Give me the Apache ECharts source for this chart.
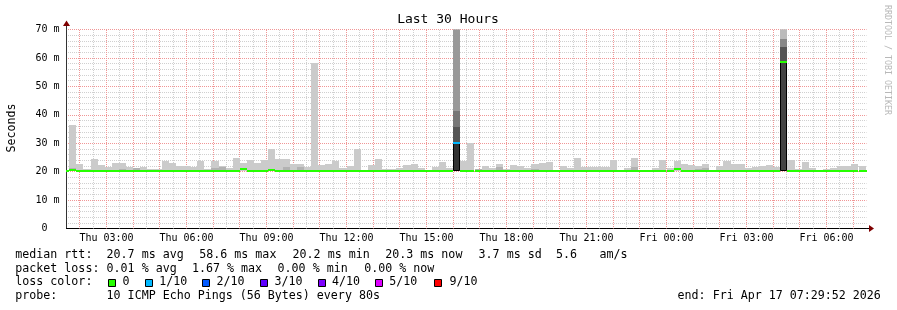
<!DOCTYPE html>
<html>
<head>
<meta charset="utf-8">
<script src="https://cdn.jsdelivr.net/npm/echarts@6/dist/echarts.min.js"></script>
<style>
html,body{margin:0;padding:0;background:#ffffff;}
#c{width:897px;height:310px;}
</style>
</head>
<body>
<div id="c"></div>
<script>
// ---------------- DATA ----------------
// x axis: hours since Thu 00:00 ; 30 hour window ending Fri 07:29:52
const axisStartHour = 1.5;
const axisEndHour = 31.5;
// 16-minute consolidated bins; index 0 is a partial bin before the window
const firstBinStartHour = 1 + 20 / 60;
const binHours = 16 / 60;

// top of smoke (max rtt, ms) per bin
const smokeHigh = [
  20.6,
  36.3, 22.6, 20.9, 24.4, 22.3, 21.7, 23.1, 23.1, 21.7, 21.2,
  21.7, 21.1, 21.1, 23.8, 23.1, 22.1, 22.1, 21.7, 23.8, 20.8,
  23.8, 22.1, 21.2, 24.7, 23.1, 24.0, 23.1, 24.0, 27.9, 24.4,
  24.4, 22.6, 22.6, 21.6, 58.2, 22.3, 22.6, 23.6, 21.3, 21.9,
  27.9, 20.7, 22.3, 24.6, 21.1, 20.8, 21.3, 22.3, 22.6, 21.2,
  20.7, 21.6, 23.3, 21.3, 75.0, 23.8, 29.9, 21.1, 22.1, 21.3,
  22.6, 21.1, 22.4, 22.1, 21.3, 22.6, 23.0, 23.4, 20.7, 22.1,
  21.4, 24.7, 21.7, 21.7, 21.7, 21.7, 24.0, 20.7, 21.2, 24.7,
  20.7, 20.7, 21.2, 24.0, 21.4, 23.6, 22.6, 22.3, 21.9, 22.6,
  20.7, 21.9, 23.6, 22.6, 22.6, 21.2, 21.7, 22.1, 22.3, 21.6,
  75.0, 24.0, 20.8, 23.3, 21.2, 20.7, 20.9, 21.2, 21.9, 21.9,
  22.6, 21.9,
  20.6
];
// bottom of smoke (ms)
const smokeFloor = 20.2;
// darker inner smoke band tops: [bin index, ms]
const innerSmoke = [
  [1, 21.3], [8, 21.0], [10, 21.2], [21, 21.4], [22, 21.7], [31, 21.5],
  [33, 21.7], [58, 21.1], [61, 21.7], [66, 21.0], [80, 21.7], [89, 20.8], [90, 21.4]
];
// median rtt (ms) per bin
const medianMs = [
  20.3,
  20.5, 20.3, 20.3, 20.3, 20.3, 20.3, 20.3, 20.4, 20.3, 20.3,
  20.3, 20.3, 20.3, 20.3, 20.3, 20.3, 20.3, 20.3, 20.3, 20.3,
  20.4, 20.3, 20.3, 20.3, 20.8, 20.3, 20.4, 20.3, 20.6, 20.3,
  20.4, 20.3, 20.4, 20.3, 20.4, 20.3, 20.3, 20.3, 20.3, 20.4,
  20.4, 20.3, 20.3, 20.3, 20.3, 20.3, 20.3, 20.3, 20.3, 20.3,
  20.3, 20.3, 20.3, 20.3, 30.25, 20.3, 20.3, 20.4, 20.3, 20.3,
  20.3, 20.3, 20.3, 20.3, 20.3, 20.3, 20.3, 20.3, 20.3, 20.3,
  20.3, 20.3, 20.3, 20.3, 20.3, 20.3, 20.3, 20.3, 20.3, 20.4,
  20.3, 20.3, 20.3, 20.3, 20.3, 20.9, 20.3, 20.3, 20.3, 20.4,
  20.3, 20.3, 20.3, 20.3, 20.3, 20.3, 20.3, 20.3, 20.3, 20.3,
  58.6, 20.3, 20.3, 20.3, 20.3, 20.3, 20.3, 20.3, 20.3, 20.3,
  20.3, 20.3,
  20.3
];
// packet loss events: [bin index, lost pings of 10]
const lossEvents = [[55, 1]];
// spike bins with layered smoke: band edges (ms), bottom to top
const spikeIndex = [55, 101];
const spikeEdges = [
  [20.2, 30.0, 35.7, 41.3, 75.0],
  [20.2, 58.4, 63.9, 66.8, 75.0]
];

// tick labels
const xTickHours = [3, 6, 9, 12, 15, 18, 21, 24, 27, 30];
const xTickLabels = ['Thu 03:00', 'Thu 06:00', 'Thu 09:00', 'Thu 12:00', 'Thu 15:00',
  'Thu 18:00', 'Thu 21:00', 'Fri 00:00', 'Fri 03:00', 'Fri 06:00'];
const yTickLabels = [' 0', '10 m', '20 m', '30 m', '40 m', '50 m', '60 m', '70 m'];

// legend texts
const legendLossLabels = ['0', '1/10', '2/10', '3/10', '4/10', '5/10', '9/10'];
const legendLossCounts = [0, 1, 2, 3, 4, 5, 9];

// ---------------- STYLE ----------------
const FONT = 'DejaVu Sans Mono';
const GRID_MINOR = '#d0d0d0';
const GRID_MAJOR = '#f09696';
const SMOKE_LIGHT = '#cbcbcb';
const SMOKE_INNER = '#b2b2b2';
const spikeColors = [
  ['#333333', '#555555', '#777777', '#999999'],
  ['#444444', '#555555', '#888888', '#bbbbbb']
];
const lossColorSteps = [
  [0, '#26ff00'], [1, '#00b8ff'], [2, '#0059ff'], [3, '#5e00ff'],
  [4, '#7e00ff'], [5, '#dd00ff'], [9, '#ff0000']
];
function lossColor(n) {
  let c = lossColorSteps[0][1];
  for (const s of lossColorSteps) { if (n >= s[0]) c = s[1]; }
  return c;
}

// ---------------- BUILD ----------------
const innerMap = {};
innerSmoke.forEach(p => { innerMap[p[0]] = p[1]; });
const lossMap = {};
lossEvents.forEach(p => { lossMap[p[0]] = p[1]; });

const smokeData = smokeHigh.map((h, i) => {
  const s = firstBinStartHour + i * binHours;
  return [s, s + binHours, smokeFloor, h, innerMap[i] !== undefined ? innerMap[i] : smokeFloor];
});
const medianData = medianMs.map((m, i) => {
  const s = firstBinStartHour + i * binHours;
  return [s, s + binHours, m, lossMap[i] || 0];
});
const spikeData = [];
spikeIndex.forEach((bi, si) => {
  const s = firstBinStartHour + bi * binHours;
  const e = spikeEdges[si];
  for (let k = 0; k < e.length - 1; k++) {
    spikeData.push([s, s + binHours, e[k], e[k + 1], k, si]);
  }
});
// vertical grid positions: every half hour, red on the full hour
const vGridData = [];
for (let k = 1; axisStartHour + k * 0.5 < axisEndHour; k++) {
  const h = axisStartHour + k * 0.5;
  vGridData.push([h, Number.isInteger(h) ? 1 : 0]);
}

function pxRect(api, x0, x1, v0, v1) {
  const a = api.coord([x0, v1]);
  const b = api.coord([x1, v0]);
  const l = Math.round(a[0]), r = Math.round(b[0]);
  const t = Math.round(a[1]), bt = Math.round(b[1]);
  return { x: l, y: t, width: r - l, height: bt - t };
}

const chart = echarts.init(document.getElementById('c'), null, { renderer: 'canvas', width: 897, height: 310 });

const legendRows = [
  [[15.3, 'median rtt:'], [106.6, '20.7 ms avg'], [199.3, '58.6 ms max'], [292.6, '20.2 ms min'],
   [385.3, '20.3 ms now'], [478.6, '3.7 ms sd'], [556, '5.6'], [599.5, 'am/s']],
  [[15.3, 'packet loss:'], [106.6, '0.01 % avg'], [192, '1.67 % max'], [277.6, '0.00 % min'], [364.3, '0.00 % now']],
  [[15.3, 'loss color:']],
  [[15.3, 'probe:'], [106.6, '10 ICMP Echo Pings (56 Bytes) every 80s'], [677.6, 'end: Fri Apr 17 07:29:52 2026']]
];
const legendRowY = [255, 268.5, 282, 295.5];
const lossBoxX = [108.5, 145.5, 202.5, 260.5, 318.5, 375.5, 434.5];
const lossTextX = [122.6, 159.3, 216.6, 274.6, 332, 389.3, 449.5];

const graphics = [];
graphics.push({ type: 'text', x: 448, y: 19.5, style: { text: 'Last 30 Hours', font: '13px "' + FONT + '"', fill: '#000', align: 'center', verticalAlign: 'middle' } });
graphics.push({ type: 'text', x: 11.5, y: 128, rotation: Math.PI / 2, style: { text: 'Seconds', font: '11.6px "' + FONT + '"', fill: '#000', align: 'center', verticalAlign: 'middle' } });
graphics.push({ type: 'text', x: 887.5, y: 60, rotation: -Math.PI / 2, style: { text: 'RRDTOOL / TOBI OETIKER', font: '8.3px "' + FONT + '"', fill: '#b8b8b8', align: 'center', verticalAlign: 'middle' } });
legendRows.forEach((row, r) => {
  row.forEach(p => {
    graphics.push({ type: 'text', x: p[0], y: legendRowY[r], style: { text: p[1], font: '11.65px "' + FONT + '"', fill: '#000', align: 'left', verticalAlign: 'middle' } });
  });
});
legendLossLabels.forEach((lab, i) => {
  graphics.push({ type: 'rect', shape: { x: lossBoxX[i], y: 279.5, width: 7, height: 7 }, style: { fill: lossColor(legendLossCounts[i]), stroke: '#000', lineWidth: 1 } });
  graphics.push({ type: 'text', x: lossTextX[i], y: legendRowY[2], style: { text: lab, font: '11.65px "' + FONT + '"', fill: '#000', align: 'left', verticalAlign: 'middle' } });
});

const dotted = { width: 1, type: [1, 1], dashOffset: 0.5 };

const option = {
  animation: false,
  backgroundColor: '#ffffff',
  grid: { left: 66.5, right: 30.5, top: 29.5, bottom: 81.5, containLabel: false },
  xAxis: {
    type: 'value', min: axisStartHour, max: axisEndHour, interval: 0.5,
    axisLine: { show: true, onZero: false, lineStyle: { color: '#000', width: 1 } },
    axisTick: { show: false },
    axisLabel: {
      show: true, interval: 0, margin: 5, color: '#000', fontFamily: FONT, fontSize: 10, hideOverlap: false,
      formatter: function (v) {
        const idx = xTickHours.findIndex(h => Math.abs(h - v) < 1e-6);
        return idx >= 0 ? xTickLabels[idx] : '';
      }
    },
    splitLine: { show: false }
  },
  yAxis: {
    type: 'value', min: 0, max: 70, interval: 10,
    axisLine: { show: true, lineStyle: { color: '#333', width: 1 } },
    axisTick: { show: false },
    axisLabel: {
      margin: 31, align: 'left', color: '#000', fontFamily: FONT, fontSize: 10,
      formatter: function (v) { return yTickLabels[Math.round(v / 10)]; }
    },
    splitLine: { show: true, lineStyle: Object.assign({ color: GRID_MAJOR }, dotted) },
    minorTick: { show: false, splitNumber: 5 },
    minorSplitLine: { show: true, lineStyle: Object.assign({ color: GRID_MINOR }, dotted) }
  },
  series: [
    {
      type: 'custom', name: 'vgrid', silent: true, clip: true, data: vGridData, z: 1,
      encode: { x: 0 },
      renderItem: function (params, api) {
        const h = api.value(0), major = api.value(1);
        const top = api.coord([h, 70]), bot = api.coord([h, 0]);
        const x = Math.floor(top[0]) + 0.5;
        return {
          type: 'line',
          shape: { x1: x, y1: Math.round(bot[1]), x2: x, y2: Math.round(top[1]) },
          style: { stroke: major ? GRID_MAJOR : GRID_MINOR, lineWidth: 1, lineDash: [1, 1], lineDashOffset: 0 }
        };
      }
    },
    {
      type: 'custom', name: 'smoke', clip: true, data: smokeData,
      encode: { x: [0, 1], y: [2, 3] },
      renderItem: function (params, api) {
        const x0 = api.value(0), x1 = api.value(1), lo = api.value(2), hi = api.value(3), inn = api.value(4);
        const children = [];
        children.push({ type: 'rect', shape: pxRect(api, x0, x1, lo, hi), style: { fill: SMOKE_LIGHT } });
        if (inn > lo) {
          children.push({ type: 'rect', shape: pxRect(api, x0, x1, lo, inn), style: { fill: SMOKE_INNER } });
        }
        return { type: 'group', children: children };
      }
    },
    {
      type: 'custom', name: 'spike', clip: true, data: spikeData,
      encode: { x: [0, 1], y: [2, 3] },
      renderItem: function (params, api) {
        const r = pxRect(api, api.value(0), api.value(1), api.value(2), api.value(3));
        const k = api.value(4), si = api.value(5);
        const st = { fill: spikeColors[si][k] };
        if (k === 0) { st.stroke = '#000'; st.lineWidth = 1; r.x += 0.5; r.width -= 1; r.height -= 0.5; }
        return { type: 'rect', shape: r, style: st };
      }
    },
    {
      type: 'custom', name: 'median', clip: true, data: medianData,
      encode: { x: [0, 1], y: 2 },
      renderItem: function (params, api) {
        const a = api.coord([api.value(0), api.value(2)]);
        const b = api.coord([api.value(1), api.value(2)]);
        const l = Math.round(a[0]), r = Math.round(b[0]);
        const t = Math.round(a[1] - 1);
        return { type: 'rect', shape: { x: l, y: t, width: r - l, height: 2 }, style: { fill: lossColor(api.value(3)) } };
      }
    }
  ],
  graphic: graphics
};
chart.setOption(option);

// axis arrows (decoration) positioned from the grid corners
const pBR = chart.convertToPixel({ gridIndex: 0 }, [axisEndHour, 0]);
const pTL = chart.convertToPixel({ gridIndex: 0 }, [axisStartHour, 70]);
const ax = Math.round(pTL[0]) - 0.5;
const ay = Math.round(pBR[1]) - 0.5;
const extra = [
  { type: 'line', shape: { x1: pBR[0], y1: ay, x2: pBR[0] + 3, y2: ay }, style: { stroke: '#000', lineWidth: 1 } },
  { type: 'polygon', shape: { points: [[pBR[0] + 2.5, ay - 3.5], [pBR[0] + 7.5, ay], [pBR[0] + 2.5, ay + 3.5]] }, style: { fill: '#7f0000' } },
  { type: 'line', shape: { x1: ax, y1: pTL[1], x2: ax, y2: pTL[1] - 4 }, style: { stroke: '#333', lineWidth: 1 } },
  { type: 'polygon', shape: { points: [[ax - 3.5, pTL[1] - 3.5], [ax, pTL[1] - 9], [ax + 3.5, pTL[1] - 3.5]] }, style: { fill: '#7f0000' } }
];
chart.setOption({ graphic: graphics.concat(extra) });
</script>
</body>
</html>
